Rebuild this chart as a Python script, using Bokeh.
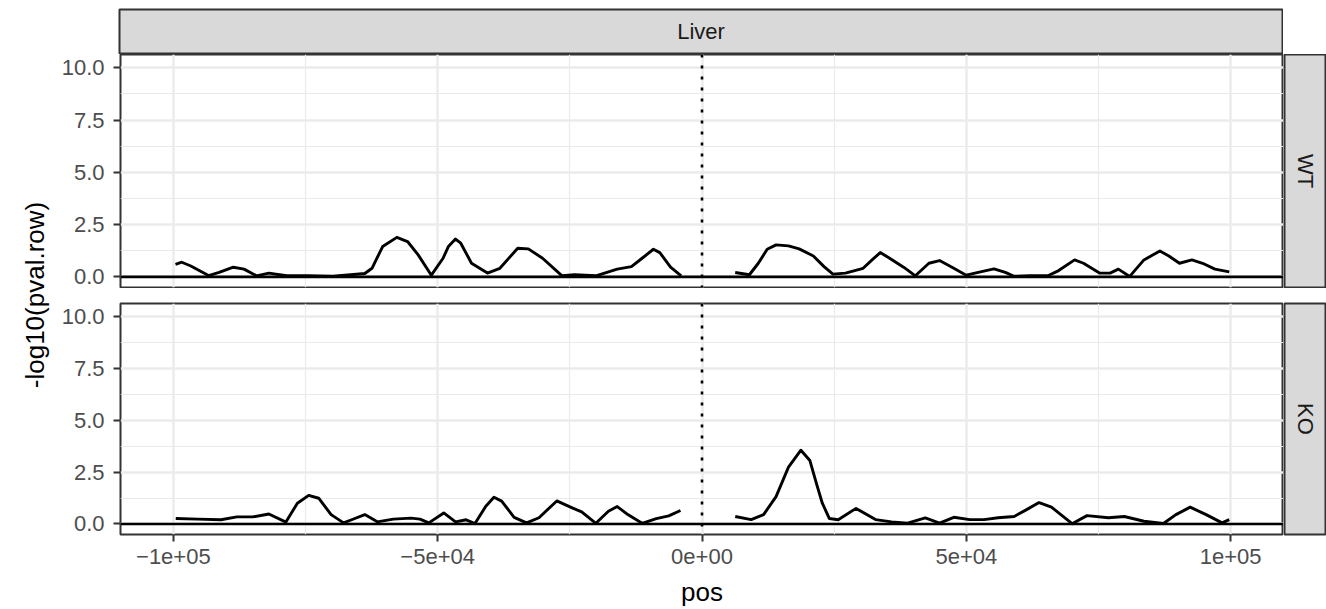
import math
from bokeh.plotting import figure
from bokeh.layouts import row, column, Spacer
from bokeh.models import Range1d, FixedTicker, Span, Grid, LinearAxis
from bokeh.core.properties import value
from bokeh.embed import file_html
from bokeh.resources import INLINE

# ---------------- data ----------------
tissue = "Liver"
genotypes = ["WT", "KO"]
x_title = "pos"
y_title = "-log10(pval.row)"

x_ticks = [-100000, -50000, 0, 50000, 100000]
x_tick_labels = ["\u22121e+05", "\u22125e+04", "0e+00", "5e+04", "1e+05"]
x_minor = [-75000, -25000, 25000, 75000]
y_ticks = [0, 2.5, 5, 7.5, 10]
y_tick_labels = ["0.0", "2.5", "5.0", "7.5", "10.0"]
y_minor = [1.25, 3.75, 6.25, 8.75]

wt_left_pos = [-99600, -98400, -96700, -93350, -91340, -88650, -86630, -84280, -81930, -78580,
               -74530, -69820, -66470, -63780, -62430, -60410, -57720, -55700, -53690, -51200,
               -48980, -47980, -46630, -45630, -43600, -40590, -38230, -34860, -32850, -30160,
               -26470, -24110, -20070, -16040, -13350, -11330, -9190, -7980, -5950, -3930]
wt_left_val = [0.60, 0.70, 0.52, 0.06, 0.21, 0.46, 0.37, 0.05, 0.18, 0.05,
               0.06, 0.03, 0.10, 0.16, 0.41, 1.45, 1.89, 1.69, 1.05, 0.08,
               0.89, 1.45, 1.81, 1.61, 0.65, 0.18, 0.41, 1.37, 1.34, 0.89,
               0.05, 0.10, 0.05, 0.37, 0.49, 0.89, 1.32, 1.16, 0.46, 0.05]

wt_right_pos = [6280, 8970, 10650, 12330, 14010, 16360, 18380, 21070, 23080, 24770,
                27130, 30480, 32170, 33720, 35190, 38210, 40360, 42920, 44940, 47290,
                49980, 52670, 55230, 57380, 59050, 62080, 65440, 67470, 70480, 72170,
                75190, 77200, 78760, 80910, 83600, 86620, 88310, 90320, 92680, 94690,
                97040, 99740]
wt_right_val = [0.21, 0.10, 0.65, 1.32, 1.53, 1.48, 1.34, 1.00, 0.49, 0.13,
                0.18, 0.41, 0.81, 1.16, 0.94, 0.45, 0.05, 0.65, 0.78, 0.46,
                0.08, 0.24, 0.38, 0.21, 0.03, 0.05, 0.05, 0.30, 0.81, 0.65,
                0.18, 0.18, 0.37, 0.02, 0.81, 1.24, 1.00, 0.65, 0.81, 0.65,
                0.37, 0.24]

ko_left_pos = [-99550, -95370, -91000, -87990, -84960, -81930, -78710, -76540, -74400, -72510,
               -70160, -67810, -65790, -63780, -61430, -58400, -55040, -53350, -51680, -48850,
               -46630, -44620, -42940, -40930, -39360, -37900, -35540, -33190, -30840, -27470,
               -24770, -22760, -20070, -17710, -16040, -14030, -11330, -8640, -6290, -4070]
ko_left_val = [0.26, 0.23, 0.20, 0.34, 0.34, 0.48, 0.09, 1.00, 1.38, 1.24,
               0.45, 0.05, 0.25, 0.45, 0.10, 0.23, 0.28, 0.23, 0.05, 0.53,
               0.10, 0.20, 0.02, 0.84, 1.29, 1.10, 0.32, 0.05, 0.30, 1.11,
               0.80, 0.58, 0.03, 0.61, 0.84, 0.45, 0.03, 0.26, 0.39, 0.65]

ko_right_pos = [6290, 9300, 11650, 14010, 16360, 18710, 20410, 21740, 22760, 24100,
                25770, 29140, 32830, 35860, 38890, 42240, 44940, 47630, 50660, 53350,
                56020, 59050, 61410, 63760, 66110, 70010, 72830, 76880, 79890, 83600,
                87290, 89650, 92340, 95370, 98380, 99740]
ko_right_val = [0.36, 0.21, 0.45, 1.32, 2.74, 3.56, 3.06, 1.87, 1.00, 0.26,
                0.20, 0.75, 0.21, 0.10, 0.04, 0.29, 0.04, 0.32, 0.21, 0.21,
                0.30, 0.36, 0.69, 1.03, 0.81, 0.01, 0.40, 0.30, 0.36, 0.13,
                0.02, 0.45, 0.81, 0.45, 0.05, 0.21]

# ---------------- styling ----------------
FONT = "Liberation Sans"
STRIP_FILL = "#D9D9D9"
BORDER = "#333333"
GRID = "#EBEBEB"

TOTAL_W, TOTAL_H = 1326, 609
YLAB_W = 58
LEFT_B = 60
FRAME_W = 1165
STRIP_W = TOTAL_W - YLAB_W - LEFT_B - FRAME_W   # 43

TOP_H, TOP_TB, TOP_BB = 234, 0, 1
BOT_H, BOT_TB, BOT_BB = 307, 1, 74

x_range = Range1d(-110000, 110000)


def style_axis(ax, standoff):
    ax.axis_line_color = None
    ax.major_tick_line_color = BORDER
    ax.major_tick_line_width = 2
    ax.major_tick_out = 7
    ax.major_tick_in = 0
    ax.minor_tick_line_color = None
    ax.major_label_text_font = FONT
    ax.major_label_text_font_size = "22px"
    ax.major_label_text_color = "#4D4D4D"
    ax.major_label_standoff = standoff


def make_panel(segments, height, top_b, bottom_b, show_x):
    p = figure(width=LEFT_B + FRAME_W, height=height, x_range=x_range,
               y_range=Range1d(-0.51, 10.64), output_backend="svg",
               toolbar_location=None, x_axis_location=None, y_axis_location=None,
               min_border_left=LEFT_B, min_border_right=0,
               min_border_top=top_b, min_border_bottom=bottom_b,
               background_fill_color="white", border_fill_color="white",
               outline_line_color=BORDER, outline_line_width=2)
    p.grid.visible = False
    xt = FixedTicker(ticks=x_ticks, minor_ticks=x_minor)
    yt = FixedTicker(ticks=y_ticks, minor_ticks=y_minor)
    for dim, tk in ((0, xt), (1, yt)):
        p.add_layout(Grid(dimension=dim, ticker=tk, grid_line_color=GRID, grid_line_width=2.4,
                          minor_grid_line_color=GRID, minor_grid_line_width=1.2))
    yax = LinearAxis(ticker=yt,
                     major_label_overrides={float(t): l for t, l in zip(y_ticks, y_tick_labels)})
    style_axis(yax, 9)
    p.add_layout(yax, "left")
    if show_x:
        xax = LinearAxis(ticker=xt,
                         major_label_overrides={float(t): l for t, l in zip(x_ticks, x_tick_labels)},
                         axis_label=x_title)
        style_axis(xax, 7)
        xax.axis_label_text_font = FONT
        xax.axis_label_text_font_size = "26px"
        xax.axis_label_text_font_style = "normal"
        xax.axis_label_text_color = "black"
        xax.axis_label_standoff = 10
        p.add_layout(xax, "below")
    for xs, ys in segments:
        p.line(xs, ys, line_color="black", line_width=2.9, line_join="round")
    p.add_layout(Span(location=0, dimension="width", line_color="black", line_width=2.6))
    p.add_layout(Span(location=0, dimension="height", line_color="black", line_width=2.6,
                      line_dash="3 8"))
    return p


def make_strip(w, h, label, angle, tb=1, bb=1, lb=1, rb=1):
    s = figure(width=w, height=h, x_range=Range1d(0, 1), y_range=Range1d(0, 1),
               output_backend="svg", toolbar_location=None,
               x_axis_location=None, y_axis_location=None,
               min_border_top=tb, min_border_bottom=bb, min_border_left=lb, min_border_right=rb,
               background_fill_color=STRIP_FILL, border_fill_color="white",
               outline_line_color=BORDER, outline_line_width=2)
    s.grid.visible = False
    s.text(x=[0.5], y=[0.5], text=[label], angle=angle, text_align="center",
           text_baseline="middle", text_font=value(FONT), text_font_size="22px",
           text_color="#1A1A1A")
    return s


p_top = make_panel([(wt_left_pos, wt_left_val), (wt_right_pos, wt_right_val)],
                   TOP_H, TOP_TB, TOP_BB, False)
p_bot = make_panel([(ko_left_pos, ko_left_val), (ko_right_pos, ko_right_val)],
                   BOT_H, BOT_TB, BOT_BB, True)

strip_top = make_strip(FRAME_W, 46, tissue, 0, tb=1, bb=1, lb=1, rb=1)
strip_wt = make_strip(STRIP_W, TOP_H, genotypes[0], -math.pi / 2,
                      tb=TOP_TB, bb=TOP_BB, lb=1, rb=0)
strip_ko = make_strip(STRIP_W, BOT_H, genotypes[1], -math.pi / 2,
                      tb=BOT_TB, bb=BOT_BB, lb=1, rb=0)

ylab = figure(width=YLAB_W, height=TOTAL_H, x_range=Range1d(0, YLAB_W),
              y_range=Range1d(0, TOTAL_H),
              output_backend="svg", toolbar_location=None,
              x_axis_location=None, y_axis_location=None, min_border=0,
              outline_line_color=None, background_fill_color="white", border_fill_color="white")
ylab.grid.visible = False
ylab.text(x=[34], y=[TOTAL_H - 294.5], text=[y_title], angle=math.pi / 2,
          text_align="center", text_baseline="middle", text_font=value(FONT),
          text_font_size="26px", text_color="black")

main = column(
    Spacer(width=10, height=8),
    row(Spacer(width=LEFT_B, height=46), strip_top),
    row(p_top, strip_wt),
    Spacer(width=10, height=14),
    row(p_bot, strip_ko),
)
layout = row(ylab, main)

open("out.html", "w").write(file_html(layout, INLINE))
